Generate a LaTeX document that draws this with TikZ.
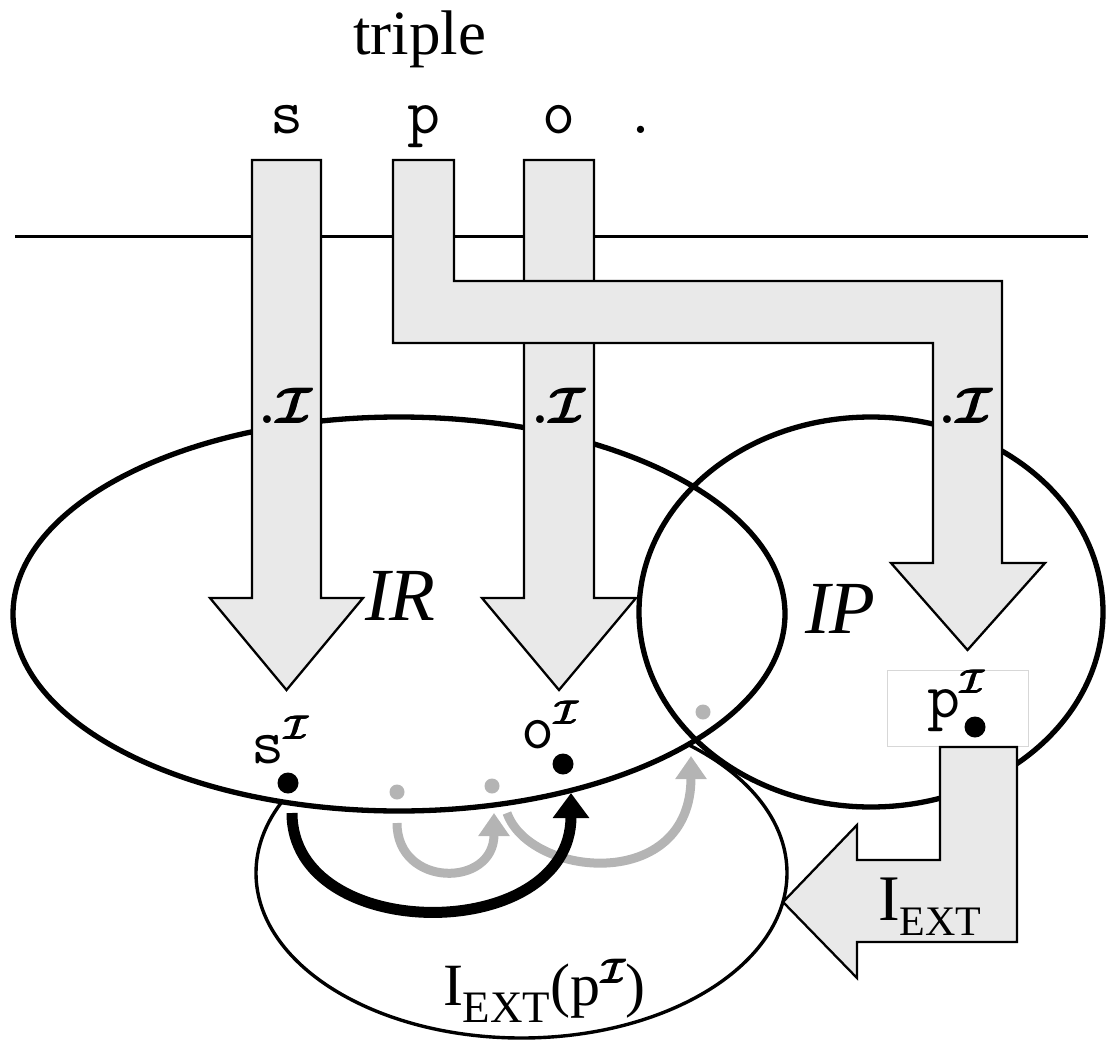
\RequirePackage{fix-cm}
\documentclass[tikz,border=0pt]{standalone}
\usepackage{amsmath}
\usepackage{fontspec}
\setmainfont{Liberation Serif}
\usetikzlibrary{arrows.meta}
\definecolor{arrowfill}{RGB}{233,233,233}
\definecolor{arcgray}{RGB}{180,180,180}
\definecolor{boxgray}{RGB}{215,215,215}
\newcommand{\heavyI}{\boldsymbol{\mathcal{I}}}
\newcommand{\calI}{\rlap{$\heavyI$}\kern0.9pt\rlap{$\heavyI$}\raisebox{0.5pt}{$\heavyI$}}
\newcommand{\supI}{\raisebox{0.36em}{\fontsize{34}{40}\selectfont\calI}}
\begin{document}
\begin{tikzpicture}[x=1pt,y=-1pt,
  bigarrow/.style={fill=arrowfill,draw=black,line width=2.3pt,line join=miter},
  region/.style={draw=black,line width=5.3pt},
  thinregion/.style={draw=black,line width=3.4pt},
  dotblack/.style={circle,fill=black,inner sep=0pt,minimum size=21pt},
  dotgray/.style={circle,fill=arcgray,inner sep=0pt,minimum size=15pt},
  lbl/.style={inner sep=0pt,outer sep=0pt},
  mono/.style={lbl,font=\fontsize{64}{70}\selectfont\ttfamily},
  interp/.style={lbl,font=\fontsize{50}{60}\selectfont},
  regionlabel/.style={lbl,font=\fontsize{75}{85}\selectfont\itshape},
  blackarc/.style={line width=11pt,-{Triangle[length=25pt,width=35pt]}},
  grayarc/.style={draw=arcgray,line width=9pt,-{Triangle[length=23pt,width=30pt]}}
]
\useasboundingbox (0,0) rectangle (1114,1041);

% centres of the regions
\coordinate (IRc) at (399,614);
\coordinate (IPc) at (871,612);
\coordinate (IEc) at (521.5,873);

% horizontal rule
\coordinate (hl) at (15,236);
\coordinate (hr) at (1088,236);
\draw[line width=3pt] (hl) -- (hr);

% I_EXT(p) region (partly hidden)
\draw[thinregion] (IEc) ellipse [x radius=265.5pt, y radius=165pt];

% IR and IP regions
\fill[white] (IRc) ellipse [x radius=386pt, y radius=197pt];
\fill[white] (IPc) ellipse [x radius=232pt, y radius=195pt];
\draw[region] (IRc) ellipse [x radius=386pt, y radius=197pt];
\draw[region] (IPc) ellipse [x radius=232pt, y radius=195pt];

% title and triple
\node[lbl,anchor=base,font=\fontsize{63}{70}\selectfont] (title) at (419.5,55) {triple};
\node[mono,anchor=base] (ts) at (286.5,133) {s};
\node[mono,anchor=base] (tp) at (423.5,133) {p};
\node[mono,anchor=base] (to) at (559,133) {o};
\node[mono,anchor=base] (tdot) at (641,133) {.};

% big arrows
\draw[bigarrow] (252,160) -- (321,160) -- (321,598) -- (363,598) -- (286.5,690) -- (210,598) -- (252,598) -- cycle;
\draw[bigarrow] (524,160) -- (594,160) -- (594,598) -- (636,598) -- (559,690) -- (482,598) -- (524,598) -- cycle;
\draw[bigarrow] (393,160) -- (454,160) -- (454,281) -- (1002,281) -- (1002,563) -- (1045,563) -- (967.5,650) -- (891,563) -- (933,563) -- (933,343) -- (393,343) -- cycle;

\node[interp,anchor=base] (is) at (286.5,423) {$\boldsymbol{.}$\calI};
\node[interp,anchor=base] (io) at (559,423) {$\boldsymbol{.}$\calI};
\node[interp,anchor=base] (ip) at (966.5,423) {$\boldsymbol{.}$\calI};

% region labels
\node[regionlabel,anchor=base west] (IRlab) at (365,620) {IR};
\node[regionlabel,anchor=base west] (IPlab) at (805,633) {IP};

% p^I box
\node[draw=boxgray,line width=1pt,fill=white,minimum width=141pt,minimum height=76pt,inner sep=0pt] (pbox) at (957.5,708) {};
\node[mono,anchor=base west] (plab) at (927,717) {p\supI};

% L-shaped arrow I_EXT
\draw[bigarrow] (940,747) -- (1017,747) -- (1017,942) -- (857,942) -- (857,978) -- (783,902) -- (857,825) -- (857,860) -- (940,860) -- cycle;
\node[lbl,anchor=base west,font=\fontsize{65}{70}\selectfont] (iext) at (878,920) {I\raisebox{-15pt}{\fontsize{42}{48}\selectfont EXT}};

% element labels
\node[mono,anchor=base west] (slab) at (251,763) {s\supI};
\node[mono,anchor=base west] (olab) at (521,748) {o\supI};

% dots
\node[dotblack] (sd) at (288,783) {};
\node[dotblack] (od) at (563,764) {};
\node[dotblack] (pd) at (975,727) {};
\node[dotgray] (g1) at (397,792) {};
\node[dotgray] (g2) at (492,786) {};
\node[dotgray] (g3) at (703,712) {};

% arcs
\coordinate (bs) at (292,813);
\coordinate (be) at (571,793);
\coordinate (g1s) at (397,823);
\coordinate (g1e) at (494,813);
\coordinate (g2s) at (507,813);
\coordinate (g2e) at (691,756);
\draw[grayarc] (g1s) .. controls (397,888) and (494,888) .. (g1e);
\draw[grayarc] (g2s) .. controls (530,878) and (691,893) .. (g2e);
\draw[blackarc] (bs) .. controls (292,945) and (571,945) .. (be);

% bottom label
\node[lbl,anchor=base west,font=\fontsize{60}{70}\selectfont] (extlab) at (443,1005) {I\raisebox{-17pt}{\fontsize{45}{50}\selectfont EXT}(p\supI)};
\end{tikzpicture}
\end{document}
